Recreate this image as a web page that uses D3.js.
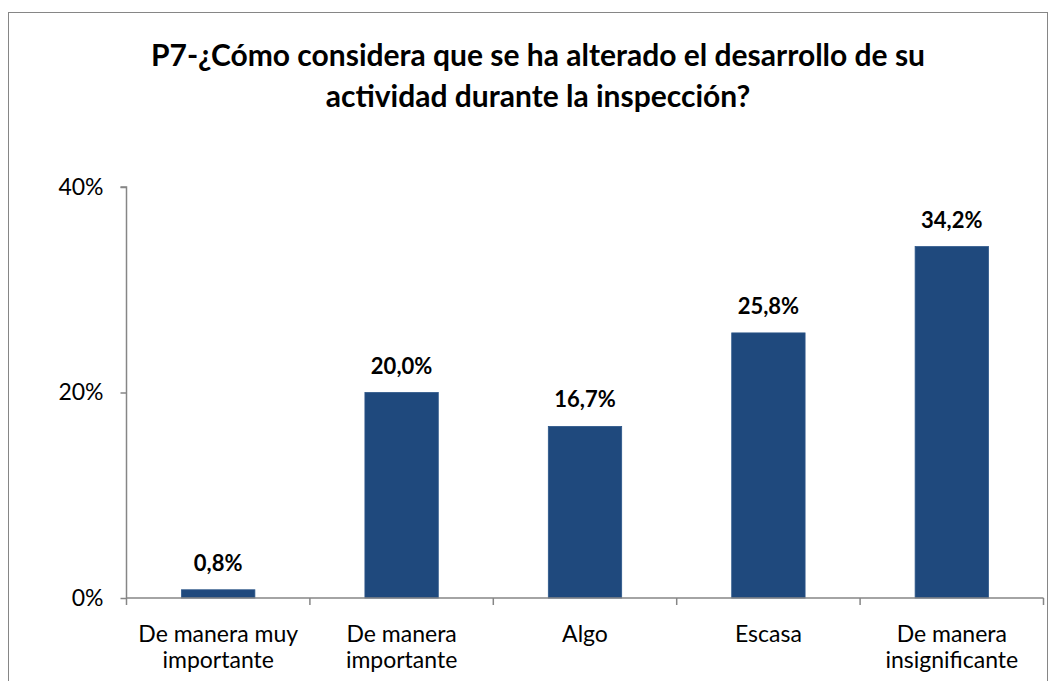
<!DOCTYPE html>
<html>
<head>
<meta charset="utf-8">
<script src="https://cdn.jsdelivr.net/npm/d3@7"></script>
<style>
  body { margin: 0; background: #fff; }
  svg { display: block; font-family: Lato, "Open Sans", sans-serif; }
</style>
</head>
<body>
<svg id="chart" width="1053" height="681"></svg>
<script>
const titleLines = ['P7-¿Cómo considera que se ha alterado el desarrollo de su', 'actividad durante la inspección?'];
const categories = ['De manera muy importante', 'De manera importante', 'Algo', 'Escasa', 'De manera insignificante'];
const categoryLines = [['De manera muy', 'importante'], ['De manera', 'importante'], ['Algo'], ['Escasa'], ['De manera', 'insignificante']];
const values = [0.008, 0.200, 0.167, 0.258, 0.342];
const yTicks = [0, 0.2, 0.4];

const svg = d3.select('#chart');
const margin = { top: 187, right: 10, bottom: 83, left: 126.5 };
const width = 1043.5 - margin.left, height = 598 - margin.top;

// chart border
svg.append('rect')
  .attr('x', 8.5).attr('y', 12.5)
  .attr('width', 1039).attr('height', 700)
  .attr('fill', '#fff').attr('stroke', '#868686').attr('stroke-width', 1);

// title
svg.append('text')
  .attr('text-anchor', 'middle')
  .attr('font-weight', 'bold')
  .attr('font-size', '30px')
  .attr('fill', '#000')
  .selectAll('tspan')
  .data(titleLines)
  .enter().append('tspan')
  .attr('x', 538)
  .attr('y', (d, i) => 66 + i * 41)
  .text(d => d);

const g = svg.append('g')
  .attr('transform', 'translate(' + margin.left + ',' + margin.top + ')');

const x = d3.scaleBand().domain(categories).range([0, width]).paddingInner(0.6).paddingOuter(0.3);
const y = d3.scaleLinear().domain([0, 0.4]).range([height, 0]);

// y axis
const yAxis = g.append('g')
  .call(d3.axisLeft(y).tickValues(yTicks).tickSize(6).tickPadding(17).tickFormat(d3.format('.0%')));
yAxis.select('.domain').attr('stroke', '#868686').attr('stroke-width', 1.5).attr('d', 'M-6,0H0V' + height);
yAxis.selectAll('.tick line').attr('stroke', '#868686').attr('stroke-width', 1.5);
yAxis.selectAll('.tick text').attr('font-size', '23px').attr('fill', '#000').attr('font-family', 'Lato');

// bars
g.selectAll('rect.bar')
  .data(values)
  .enter().append('rect')
  .attr('class', 'bar')
  .attr('x', (d, i) => x(categories[i]))
  .attr('y', d => y(d))
  .attr('width', x.bandwidth())
  .attr('height', d => height - y(d))
  .attr('fill', '#1F497D')
  .attr('stroke', '#2c5689')
  .attr('stroke-width', 0.8);

// value labels
g.selectAll('text.val')
  .data(values)
  .enter().append('text')
  .attr('class', 'val')
  .attr('x', (d, i) => x(categories[i]) + x.bandwidth() / 2)
  .attr('y', d => y(d) - 19)
  .attr('text-anchor', 'middle')
  .attr('font-weight', 'bold')
  .attr('font-size', '22px')
  .text(d => d3.format('.1f')(d * 100).replace('.', ',') + '%');

// x axis
const xAxis = g.append('g')
  .attr('transform', 'translate(0,' + height + ')');
xAxis.append('line')
  .attr('x1', 0).attr('x2', width)
  .attr('stroke', '#868686').attr('stroke-width', 1.5);
const bounds = d3.range(categories.length + 1).map(i => i * x.step());
xAxis.selectAll('line.tk')
  .data(bounds)
  .enter().append('line')
  .attr('class', 'tk')
  .attr('x1', d => d).attr('x2', d => d)
  .attr('y1', 0).attr('y2', 7)
  .attr('stroke', '#868686').attr('stroke-width', 1.5);

const labels = xAxis.selectAll('text.cat')
  .data(categories)
  .enter().append('text')
  .attr('class', 'cat')
  .attr('text-anchor', 'middle')
  .attr('font-size', '23px')
  .attr('fill', '#000');
labels.selectAll('tspan')
  .data((d, i) => categoryLines[i].map(t => ({ t: t, c: d })))
  .enter().append('tspan')
  .attr('x', d => x(d.c) + x.bandwidth() / 2)
  .attr('y', (d, j) => 44 + j * 26)
  .text(d => d.t);
</script>
</body>
</html>
